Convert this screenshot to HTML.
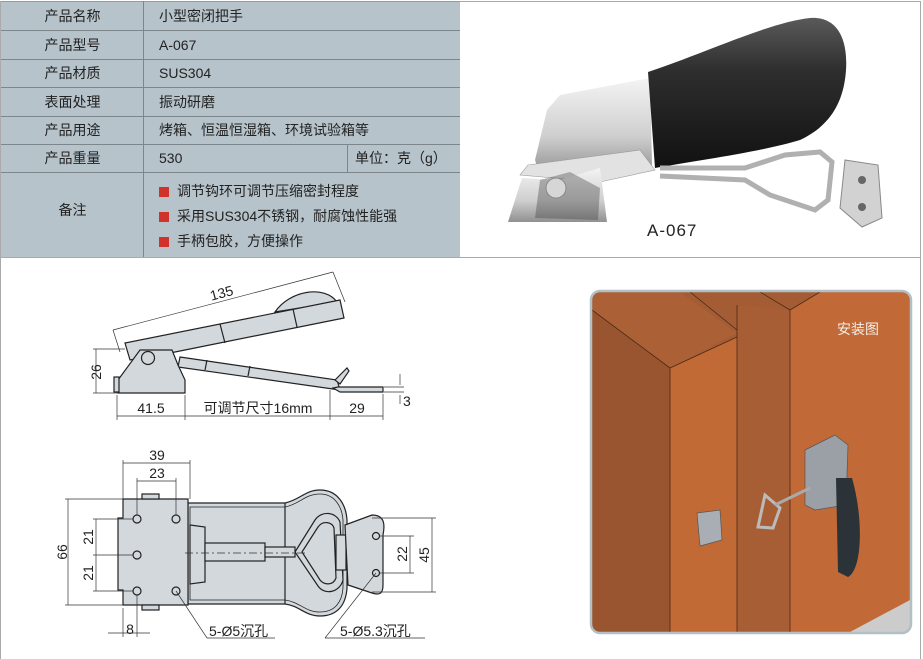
<!DOCTYPE html>
<html><head><meta charset="utf-8">
<style>
body{margin:0;background:#fff;width:923px;height:659px;overflow:hidden;position:relative;font-family:"Liberation Sans","Noto Sans CJK SC",sans-serif;}
.t{position:absolute;left:1px;top:1px;width:459px;height:256px;background:#b6c3cb;}
.c{position:absolute;font-size:14px;color:#222;line-height:28px;}
.hl{position:absolute;height:1px;background:#7d868b;}
.vl{position:absolute;width:1px;background:#7d868b;}
.sq{display:inline-block;width:10px;height:10px;background:#d2322c;margin-right:8px;vertical-align:-1px;}
</style></head><body>
<div class="t"></div>
<div class="hl" style="left:1px;top:1px;width:459px;background:#999"></div>
<div class="hl" style="left:1px;top:30px;width:459px"></div>
<div class="hl" style="left:1px;top:59px;width:459px"></div>
<div class="hl" style="left:1px;top:87px;width:459px"></div>
<div class="hl" style="left:1px;top:116px;width:459px"></div>
<div class="hl" style="left:1px;top:144px;width:459px"></div>
<div class="hl" style="left:1px;top:172px;width:459px"></div>
<div class="hl" style="left:0;top:257px;width:921px;background:#aaa"></div>
<div class="vl" style="left:0;top:1px;height:658px;background:#aaa"></div>
<div class="vl" style="left:920px;top:1px;height:658px;background:#aaa"></div>
<div class="hl" style="left:460px;top:1px;width:461px;background:#aaa"></div>
<div class="vl" style="left:143px;top:1px;height:256px"></div>
<div class="vl" style="left:347px;top:144px;height:28px"></div>
<div class="c" style="left:2px;width:141px;text-align:center;top:2px">产品名称</div>
<div class="c" style="left:2px;width:141px;text-align:center;top:31px">产品型号</div>
<div class="c" style="left:2px;width:141px;text-align:center;top:59px">产品材质</div>
<div class="c" style="left:2px;width:141px;text-align:center;top:88px">表面处理</div>
<div class="c" style="left:2px;width:141px;text-align:center;top:116px">产品用途</div>
<div class="c" style="left:2px;width:141px;text-align:center;top:144px">产品重量</div>
<div class="c" style="left:2px;width:141px;text-align:center;top:196px">备注</div>
<div class="c" style="left:159px;top:2px">小型密闭把手</div>
<div class="c" style="left:159px;top:31px">A-067</div>
<div class="c" style="left:159px;top:59px">SUS304</div>
<div class="c" style="left:159px;top:88px">振动研磨</div>
<div class="c" style="left:159px;top:116px">烤箱、恒温恒湿箱、环境试验箱等</div>
<div class="c" style="left:159px;top:144px">530</div>
<div class="c" style="left:355px;top:144px">单位：克（g）</div>
<div class="c" style="left:159px;top:177px"><span class="sq"></span>调节钩环可调节压缩密封程度</div>
<div class="c" style="left:159px;top:202px"><span class="sq"></span>采用SUS304不锈钢，耐腐蚀性能强</div>
<div class="c" style="left:159px;top:227px"><span class="sq"></span>手柄包胶，方便操作</div>

<svg width="923" height="659" style="position:absolute;left:0;top:0" font-family="Liberation Sans, Noto Sans CJK SC, sans-serif">
<defs>
<linearGradient id="blk" x1="0" y1="0" x2="0" y2="1"><stop offset="0" stop-color="#5a5a5a"/><stop offset=".35" stop-color="#2e2e2e"/><stop offset="1" stop-color="#111"/></linearGradient>
<linearGradient id="stl" x1="0" y1="0" x2="0" y2="1"><stop offset="0" stop-color="#f4f4f4"/><stop offset=".6" stop-color="#cfcfcf"/><stop offset="1" stop-color="#909090"/></linearGradient>
</defs>
<!-- product photo -->
<path d="M547,110 L560,95 L650,78 L652,165 L540,175 L535,160 Z" fill="url(#stl)"/>
<path d="M528,165 L640,150 L655,170 L600,182 L520,175 Z" fill="#e2e2e2" stroke="#999" stroke-width=".6"/>
<path d="M522,178 L560,180 L600,168 L607,222 L508,222 Z" fill="url(#stl)"/>
<path d="M540,180 L570,172 L600,188 L598,220 L535,218 Z" fill="#3a3a3a" opacity=".35"/>
<circle cx="556" cy="188" r="10" fill="#d6d6d6" stroke="#888"/>
<path d="M648,72 C700,55 770,22 810,18 C838,16 848,40 846,70 C844,100 832,125 800,140 C760,152 700,160 655,168 Z" fill="url(#blk)"/>
<path d="M660,168 L745,168 L785,155 L820,152 L832,162 L828,200 L815,210 L770,195 L745,180 L660,176" fill="none" stroke="#b0b0b0" stroke-width="5"/>
<path d="M845,160 L878,165 L882,218 L862,227 L840,208 Z" fill="#d2d2d2" stroke="#888"/>
<circle cx="862" cy="180" r="4" fill="#666"/><circle cx="862" cy="207" r="4" fill="#666"/>
<text x="647" y="236" font-size="17" fill="#222" letter-spacing="1">A-067</text>

<!-- side view -->
<g stroke="#222" stroke-width="1.2" fill="#d3d8dd">
<path d="M275,312 C290,290 325,285 337,302 Z"/>
<path d="M180,357 L337,380 L340,390 L178,367 Z"/>
<line x1="250" y1="366" x2="248" y2="376"/>
<line x1="207" y1="360" x2="205" y2="370"/>
<path d="M335,380 L347,368 L349,371 L340,384 Z"/>
<path d="M125,343 L340,300 L344,318 L175,352 L130,360 Z"/>
<line x1="220" y1="324" x2="225" y2="343"/><line x1="293" y1="309" x2="297" y2="327"/>
<path d="M118,380 L140,350 L172,350 L178,365 L185,380 L185,393 L118,393 Z"/>
<rect x="114" y="377" width="5" height="15"/>
<circle cx="148" cy="358" r="6.5"/>
<path d="M333,388 L340,392 L383,392 L383,387 L338,387 Z"/>
</g>
<g stroke="#333" stroke-width=".7" fill="none">
<line x1="113" y1="330" x2="333" y2="272"/><line x1="113" y1="330" x2="120" y2="352"/><line x1="333" y1="272" x2="345" y2="302"/>
<line x1="96" y1="349" x2="96" y2="393"/><line x1="93" y1="349" x2="125" y2="349"/><line x1="93" y1="393" x2="118" y2="393"/>
<line x1="117" y1="395" x2="117" y2="420"/><line x1="185" y1="395" x2="185" y2="420"/><line x1="330" y1="390" x2="330" y2="420"/><line x1="383" y1="394" x2="383" y2="420"/>
<line x1="117" y1="416" x2="383" y2="416"/>
<line x1="400" y1="374" x2="400" y2="385"/><line x1="400" y1="395" x2="400" y2="404"/><line x1="384" y1="387" x2="404" y2="387"/><line x1="384" y1="392" x2="404" y2="392"/>
</g>
<g font-size="14" fill="#222">
<text x="210" y="297" transform="rotate(-15 225 293)">135</text>
<text x="93" y="380" transform="rotate(-90 93 372)" text-anchor="middle">26</text>
<text x="151" y="413" text-anchor="middle">41.5</text>
<text x="258" y="413" text-anchor="middle">可调节尺寸16mm</text>
<text x="357" y="413" text-anchor="middle">29</text>
<text x="403" y="406">3</text>
</g>

<!-- top view -->
<g stroke="#222" stroke-width="1.2" fill="#d3d8dd">
<path d="M188,503 L285,503 C300,500 305,490 320,490 C338,490 346,505 347,520 L347,588 C346,604 338,616 320,616 C305,616 300,606 285,604 L188,604 Z"/>
<path d="M190,507 L285,507 C300,504 305,494 320,494 C335,494 342,507 343,520 L343,588 C342,602 335,612 320,612 C305,612 300,602 285,600 L190,600 Z" fill="none" stroke-width=".8"/>
<line x1="285" y1="503" x2="285" y2="604"/>
<path d="M190,525 L205,527 L205,582 L190,584 Z"/>
<rect x="205" y="543" width="60" height="18"/><rect x="265" y="547" width="30" height="10"/>
<path d="M295,552 L315,520 C322,510 336,512 340,522 L343,580 C340,592 325,596 318,586 Z"/>
<path d="M302,552 L318,527 C323,520 332,522 334,528 L336,578 C333,586 324,585 320,580 Z" fill="#d3d8dd"/>
<rect x="336" y="535" width="10" height="35"/>
<path d="M345,525 L372,515 C385,515 385,525 383,535 L383,585 C383,595 378,595 372,593 L348,585 Z"/>
<path d="M123,499 L188,499 L188,605 L123,605 L123,590 L118,590 L118,518 L123,518 Z"/>
<rect x="142" y="494" width="17" height="5"/><rect x="142" y="605" width="17" height="5"/>
<circle cx="137" cy="519" r="4"/><circle cx="176" cy="519" r="4"/><circle cx="137" cy="555" r="4"/><circle cx="137" cy="591" r="4"/><circle cx="176" cy="591" r="4"/>
<circle cx="376" cy="536" r="3.5"/><circle cx="376" cy="573" r="3.5"/>
</g>
<g stroke="#333" stroke-width=".7" fill="none">
<line x1="123" y1="463" x2="190" y2="463"/><line x1="123" y1="460" x2="123" y2="499"/><line x1="190" y1="460" x2="190" y2="499"/>
<line x1="137" y1="481" x2="176" y2="481"/><line x1="137" y1="478" x2="137" y2="515"/><line x1="176" y1="478" x2="176" y2="515"/>
<line x1="68" y1="499" x2="68" y2="605"/><line x1="65" y1="499" x2="123" y2="499"/><line x1="65" y1="605" x2="123" y2="605"/>
<line x1="96" y1="519" x2="96" y2="591"/><line x1="93" y1="519" x2="133" y2="519"/><line x1="93" y1="555" x2="133" y2="555"/><line x1="93" y1="591" x2="133" y2="591"/>
<line x1="123" y1="608" x2="123" y2="637"/><line x1="137" y1="595" x2="137" y2="637"/><line x1="108" y1="633" x2="150" y2="633"/>
<line x1="380" y1="536" x2="414" y2="536"/><line x1="380" y1="573" x2="414" y2="573"/><line x1="410" y1="536" x2="410" y2="573"/>
<line x1="372" y1="518" x2="436" y2="518"/><line x1="372" y1="592" x2="436" y2="592"/><line x1="432" y1="518" x2="432" y2="592"/>
<line x1="176" y1="591" x2="207" y2="638"/><line x1="207" y1="638" x2="275" y2="638"/>
<line x1="376" y1="573" x2="325" y2="638"/><line x1="325" y1="638" x2="425" y2="638"/>
<line x1="185" y1="553" x2="305" y2="553" stroke-dasharray="8 3 2 3"/>
</g>
<g font-size="14" fill="#222">
<text x="157" y="460" text-anchor="middle">39</text>
<text x="157" y="478" text-anchor="middle">23</text>
<text transform="translate(67,552) rotate(-90)" text-anchor="middle">66</text>
<text transform="translate(93,537) rotate(-90)" text-anchor="middle">21</text>
<text transform="translate(93,573) rotate(-90)" text-anchor="middle">21</text>
<text x="130" y="634" text-anchor="middle">8</text>
<text x="209" y="636">5-Ø5沉孔</text>
<text x="340" y="636">5-Ø5.3沉孔</text>
<text transform="translate(407,554) rotate(-90)" text-anchor="middle">22</text>
<text transform="translate(429,555) rotate(-90)" text-anchor="middle">45</text>
</g>

<!-- install image -->
<clipPath id="cp"><rect x="592" y="292" width="318" height="340" rx="8"/></clipPath>
<g clip-path="url(#cp)">
<rect x="590" y="290" width="322" height="344" fill="#a35c34"/>
<polygon points="592,310 670,368 670,632 592,632" fill="#98552f"/>
<polygon points="592,292 680,292 737,333 670,368 592,310" fill="#ab6036"/>
<polygon points="670,368 737,337 737,632 670,632" fill="#c26a36"/>
<polygon points="790,310 820,292 910,292 910,632 790,632" fill="#c16a37"/>
<polygon points="737,305 790,310 790,632 737,632" fill="#a85e35"/>
<polygon points="850,632 910,600 910,632" fill="#ccc"/>
<g stroke="#4a2a18" stroke-width=".8" fill="none">
<polyline points="592,310 670,368 737,337"/><line x1="670" y1="368" x2="670" y2="632"/>
<line x1="690" y1="292" x2="737" y2="330"/><line x1="737" y1="305" x2="737" y2="632"/>
<line x1="790" y1="310" x2="790" y2="632"/><polyline points="760,292 790,310 820,292"/>
</g>
<polygon points="697,513 720,510 722,540 700,546" fill="#a8aeb4" stroke="#555" stroke-width=".7"/>
<path d="M805,450 L835,435 L848,445 L846,505 L815,510 L805,505 Z" fill="#9aa0a6" stroke="#555" stroke-width=".7"/>
<path d="M780,508 L765,495 L758,527 L773,528 Z" fill="none" stroke="#bbb" stroke-width="3"/>
<line x1="775" y1="505" x2="810" y2="488" stroke="#aaa" stroke-width="3"/>
<path d="M836,478 L852,478 C864,520 862,570 848,577 L838,572 Z" fill="#2b3338"/>
<text x="837" y="334" font-size="14" fill="#f4eee8">安装图</text>
</g>
<rect x="591" y="291" width="320" height="342" rx="9" fill="none" stroke="#b3bfc6" stroke-width="2.5"/>
</svg>
</body></html>
